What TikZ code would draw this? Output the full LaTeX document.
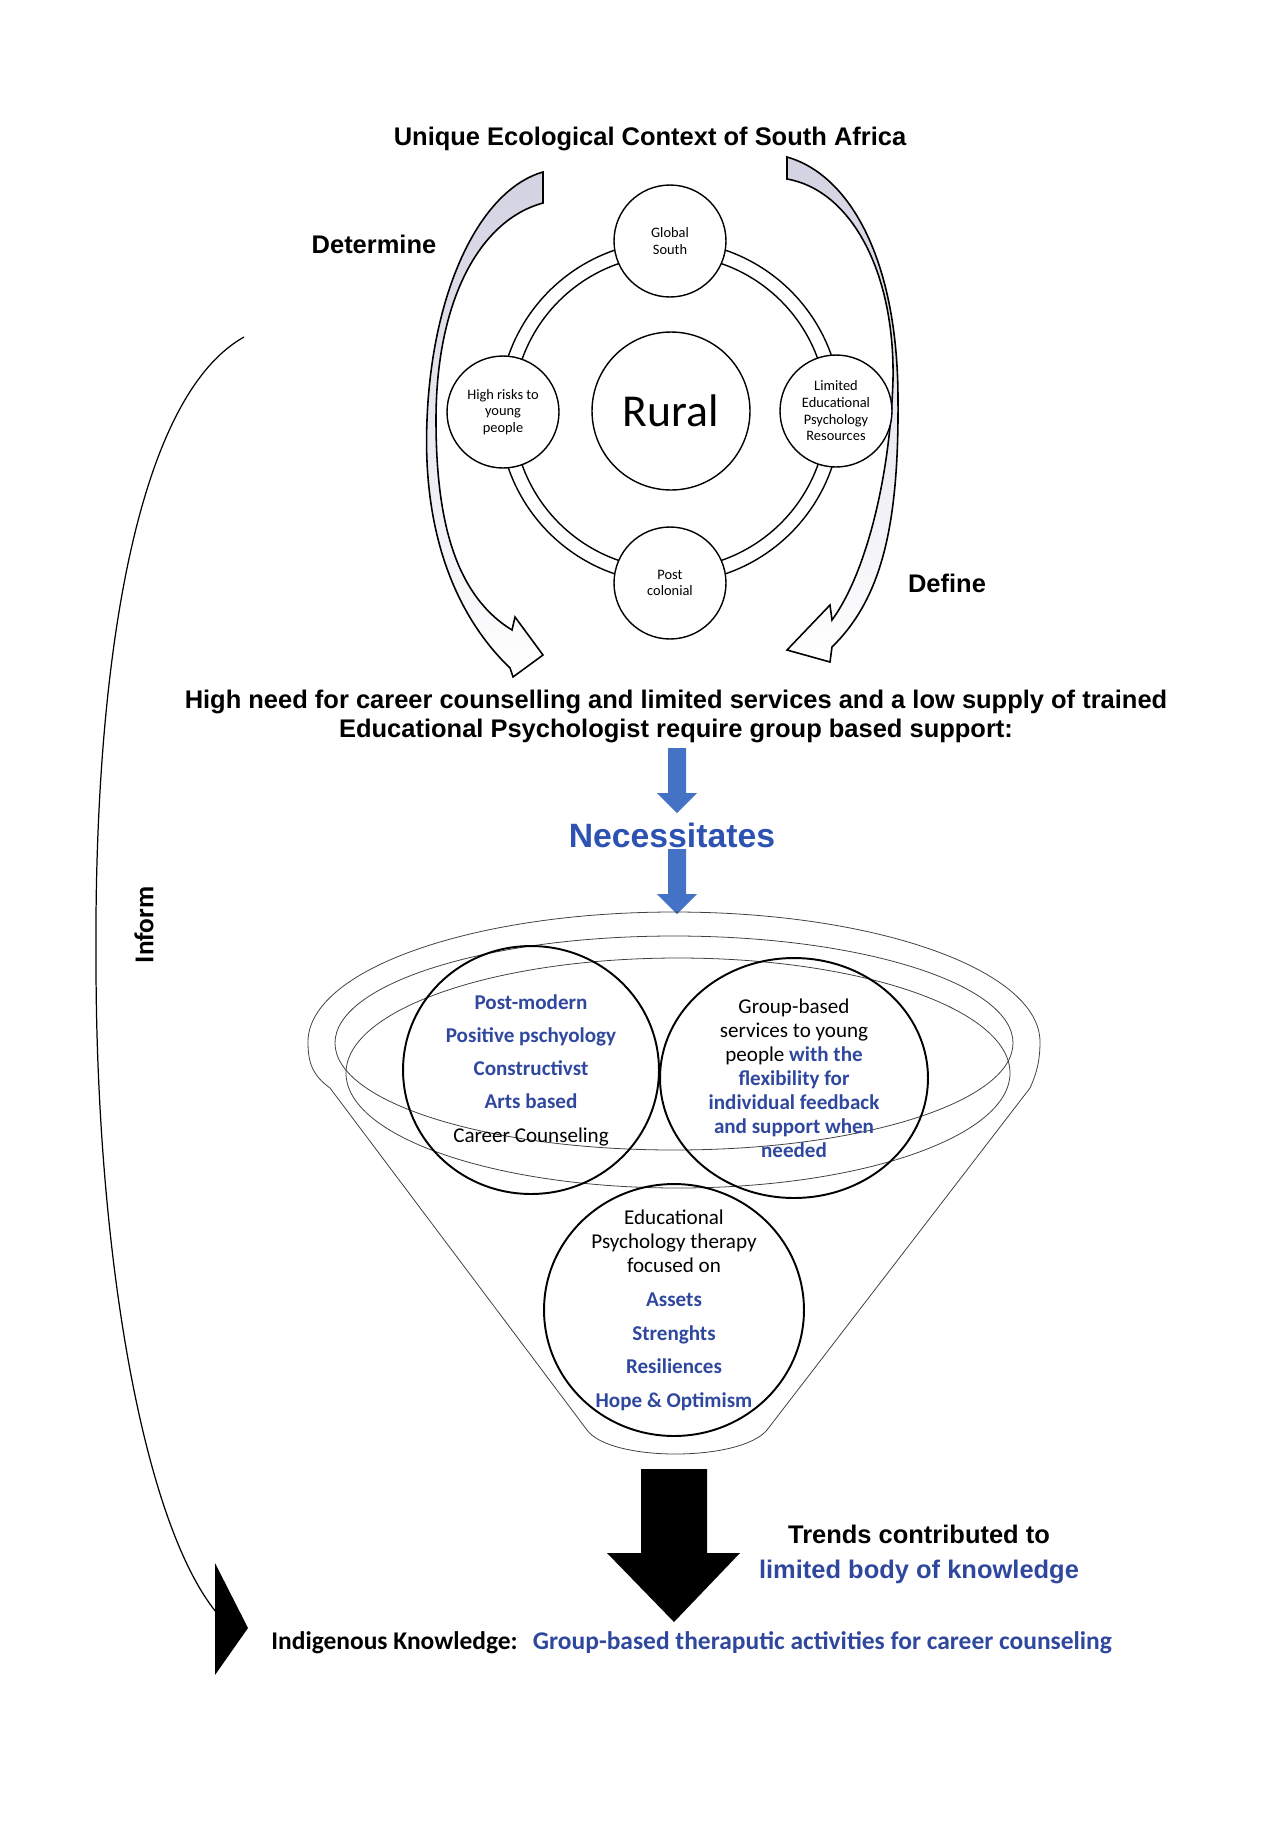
\documentclass[tikz,border=0pt]{standalone}
\usepackage{fontspec}
\setmainfont{Carlito}
\newfontfamily\arialfont{Liberation Sans}
\usetikzlibrary{shapes.geometric}

\definecolor{txtblue}{RGB}{47,72,158}
\definecolor{necblue}{RGB}{45,82,178}
\definecolor{arrowblue}{RGB}{68,114,196}
\definecolor{arrowfill}{RGB}{210,210,226}

\newcommand{\bluebf}[1]{\textcolor{txtblue}{\bfseries #1}}

\tikzset{
  heading/.style={font=\arialfont\bfseries\fontsize{14.5}{16.5}\selectfont, align=center},
  circtext/.style={align=center, font=\fontsize{12}{13.7}\selectfont}
}

\begin{document}
\begin{tikzpicture}[x=0.02cm, y=-0.02cm,
    ringline/.style={line width=0.8pt},
    ringcirc/.style={circle, draw, line width=0.8pt, fill=white, inner sep=0pt,
      minimum size=2.24cm, align=center, font=\fontsize{8.2}{9.5}\selectfont},
    bigcirc/.style={ellipse, draw, line width=1.1pt, inner sep=0pt},
    funnelline/.style={draw=black!75, line width=0.45pt},
    curvedarrow/.style={draw, line width=0.9pt, top color=arrowfill, bottom color=white}]
    \useasboundingbox (0,0) rectangle (1282,1840);

    % context at the top
    \node[heading] (title) at (650,139) {Unique Ecological Context of South Africa};
    \node[heading] (determine) at (374,244) {Determine};
    \node[heading] (define) at (947,583) {Define};

    \path[curvedarrow] (543,172) .. controls (480,190) and (432,290) .. (427,420)
        .. controls (422,540) and (460,620) .. (510,668) -- (513,677) -- (543,655) -- (515,617) -- (512,630)
        .. controls (455,595) and (436,520) .. (436,420)
        .. controls (436,300) and (480,220) .. (543,203) -- cycle;
    \path[curvedarrow] (787,157) .. controls (850,175) and (898,260) .. (898,400)
        .. controls (899,530) and (880,600) .. (832,647) -- (830,662) -- (787,650) -- (830,605) -- (832,620)
        .. controls (865,575) and (890,480) .. (893,380)
        .. controls (895,270) and (850,190) .. (787,179) -- cycle;

    \draw[ringline] (670,412) circle [radius=171];
    \draw[ringline] (670,412) circle [radius=157];

    \node[ringcirc, minimum size=3.16cm, font=\fontsize{26}{30}\selectfont] (rural) at (671,411) {Rural};
    \foreach \px/\py/\nm/\txt in {670/241/gsouth/{Global\\South},
        503/412/risks/{High risks to\\young\\people},
        836/411/limited/{Limited\\Educational\\Psychology\\Resources},
        670/583/postcol/{Post\\colonial}}
        \node[ringcirc] (\nm) at (\px,\py) {\txt};

    \node[heading] (need) at (676,716) {High need for career counselling and limited services and a low supply of trained\\Educational Psychologist require group based support:};

    % blue arrows
    \foreach \top in {748,849}
        \fill[arrowblue] (668,\top) -- (686,\top) -- (686,\top+45) -- (697,\top+45) -- (677,\top+65)
            -- (657,\top+45) -- (668,\top+45) -- cycle;
    \node[font=\arialfont\bfseries\fontsize{19.2}{22}\selectfont, text=necblue] (necess) at (672,835) {Necessitates};

    % funnel
    \draw[funnelline] (308,1042) .. controls (308,970) and (472,912) .. (674,912)
        .. controls (876,912) and (1040,970) .. (1040,1042)
        .. controls (1040,1062) and (1036,1075) .. (1030,1088) -- (767,1430)
        .. controls (740,1462) and (610,1462) .. (587,1430) -- (330,1088)
        .. controls (312,1075) and (308,1062) .. (308,1042) -- cycle;
    \draw[funnelline] (674,1043) ellipse [x radius=339, y radius=107];
    \draw[funnelline] (678,1073) ellipse [x radius=332, y radius=115];

    \node[bigcirc, minimum width=5.12cm, minimum height=4.96cm] (pomo) at (531,1070) {};
    \node[bigcirc, minimum width=5.36cm, minimum height=4.80cm] (groupsvc) at (794,1078) {};
    \node[bigcirc, minimum width=5.20cm, minimum height=5.04cm] (edpsych) at (674,1310) {};

    \node[circtext, font=\fontsize{12}{18.9}\selectfont] (pomotext) at (pomo)
        {\bluebf{Post-modern}\\\bluebf{Positive pschyology}\\\bluebf{Constructivst}\\\bluebf{Arts based}\\Career Counseling};
    \node[circtext] (groupsvctext) at (groupsvc)
        {Group-based\\services to young\\people \bluebf{with the}\\\bluebf{flexibility for}\\\bluebf{individual feedback}\\\bluebf{and support when}\\\bluebf{needed}};
    \node[circtext, font=\fontsize{12}{13.9}\selectfont] (edpsychtext) at (edpsych)
        {Educational\\Psychology therapy\\focused on\\[5.2pt]\bluebf{Assets}\\[5.2pt]\bluebf{Strenghts}\\[5.2pt]\bluebf{Resiliences}\\[5.2pt]\bluebf{Hope \& Optimism}};

    % outcome
    \fill (641,1469) -- (707,1469) -- (707,1553) -- (740,1553) -- (674,1622) -- (607,1553) -- (641,1553) -- cycle;
    \node[heading, font=\arialfont\bfseries\fontsize{14.5}{19.9}\selectfont] (trends) at (919,1554)
        {Trends contributed to\\\textcolor{txtblue}{limited body of knowledge}};
    \node[anchor=west, inner sep=0pt, font=\bfseries\fontsize{14.5}{17}\selectfont] (indig) at (271,1643)
        {Indigenous Knowledge:\hspace{0.6em}\textcolor{txtblue}{Group-based theraputic activities for career counseling}};

    % inform loop on the left
    \coordinate (informstart) at (244,337);
    \coordinate (informend) at (216,1612);
    \draw[line width=0.7pt] (informstart) .. controls (132,400) and (94,680) .. (96,960)
        .. controls (96,1250) and (142,1520) .. (informend);
    \fill (215,1563) -- (248,1628) -- (215,1675) -- cycle;
    \node[rotate=90, font=\bfseries\fontsize{15.5}{18}\selectfont] (inform) at (144,925) {Inform};
\end{tikzpicture}
\end{document}
